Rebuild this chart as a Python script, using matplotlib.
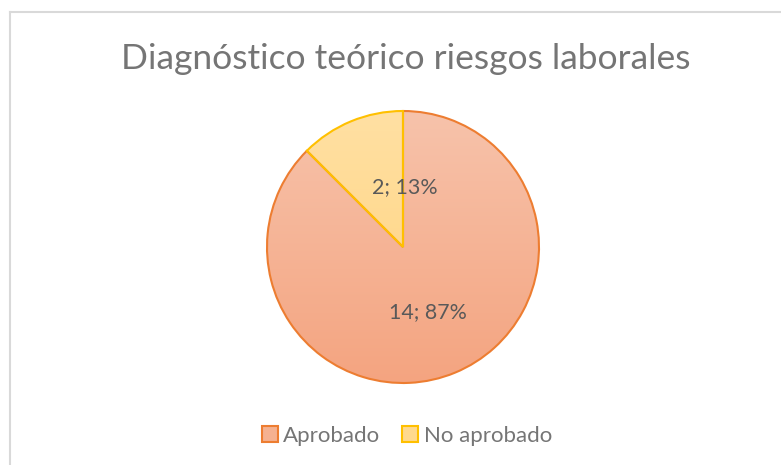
import numpy as np
import matplotlib.pyplot as plt
from matplotlib.patches import Patch
from matplotlib.colors import LinearSegmentedColormap

categories = ['Aprobado', 'No aprobado']
values = [14, 2]
labels = ['14; 87%', '2; 13%']
title = 'Diagnóstico teórico riesgos laborales'

# gradient top -> bottom for each slice, and edge colour
grad_top = ['#F7C3AB', '#FFE0A3']
grad_bottom = ['#F4A480', '#FFD27A']
edges = ['#ED7D31', '#FFC000']

plt.rcParams['font.family'] = ['Lato', 'DejaVu Sans']

fig = plt.figure(figsize=(7.81, 4.65), dpi=100)
fig.patch.set_facecolor('white')

# chart frame (only top and left edges show)
fig.add_artist(plt.Line2D([9.5 / 781, 1.0], [1 - 12.5 / 465] * 2, color='#D9D9D9', lw=1.5))
fig.add_artist(plt.Line2D([9.5 / 781] * 2, [0, 1 - 12.5 / 465], color='#D9D9D9', lw=1.5))

cx, cy, r = 403, 247, 136
ax = fig.add_axes([(cx - r) / 781, (465 - cy - r) / 465, 2 * r / 781, 2 * r / 465])
wedges, _ = ax.pie(values, startangle=90, counterclock=False, radius=1,
                   wedgeprops=dict(linewidth=1.5))
ax.set_xlim(-1, 1)
ax.set_ylim(-1, 1)
ax.set_aspect('equal')
ax.axis('off')

grad = np.linspace(0, 1, 256).reshape(-1, 1)
for w, t, b, e in zip(wedges, grad_top, grad_bottom, edges):
    cmap = LinearSegmentedColormap.from_list('g', [t, b])
    im = ax.imshow(grad, cmap=cmap, extent=(-1, 1, -1, 1), origin='upper',
                   aspect='auto', zorder=1)
    im.set_clip_path(w)
    w.set_facecolor('none')
    w.set_edgecolor(e)
    w.set_zorder(2)

# data labels
ax.text(0.18, -0.48, labels[0], ha='center', va='center', fontsize=15.4, color='#595959', zorder=3)
ax.text(0.015, 0.44, labels[1], ha='center', va='center', fontsize=15.4, color='#595959', zorder=3)

fig.text(0.519, 1 - 59 / 465, title, ha='center', va='center', fontsize=25.5, color='#757575')

handles = [Patch(facecolor=c, edgecolor=e, linewidth=1.5) for c, e in
           zip(['#F5B190', '#FFD98E'], edges)]
fig.legend(handles, categories, loc='center', bbox_to_anchor=(0.521, 1 - 436 / 465),
           ncol=2, frameon=False, fontsize=16, labelcolor='#757575',
           handlelength=0.7, handleheight=0.7, handletextpad=0.25, columnspacing=1.0)

fig.savefig('out.png', dpi=100)
